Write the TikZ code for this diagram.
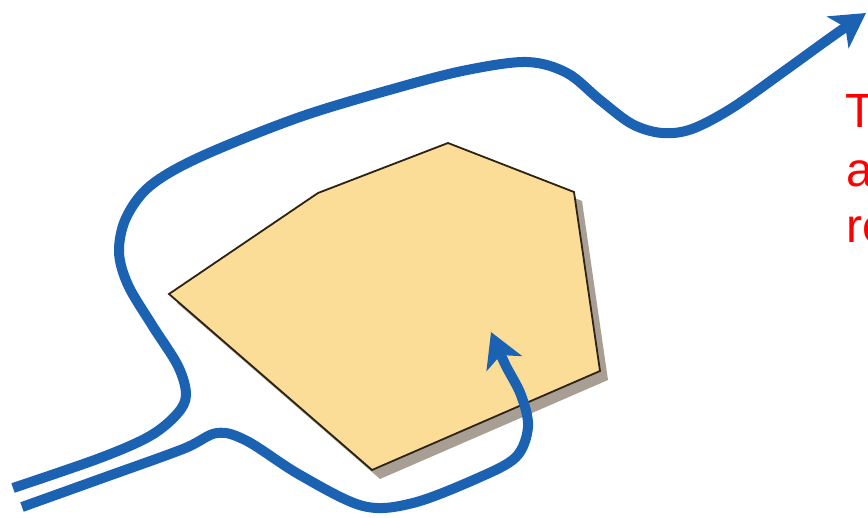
\documentclass[tikz,border=0pt]{standalone}
\usepackage{fontspec}
\setmainfont{Liberation Sans}
\usetikzlibrary{arrows.meta}
\definecolor{flowblue}{RGB}{28,98,178}
\definecolor{polyfill}{RGB}{251,221,151}
\definecolor{polyedge}{RGB}{45,35,20}
\definecolor{shadowgray}{RGB}{168,158,148}
\definecolor{txtred}{RGB}{255,0,0}
\tikzset{
  flow/.style={draw=flowblue, line width=10pt, line cap=butt,
    -{Stealth[length=34pt,width=38pt,inset=9pt]}},
  poly/.style={fill=polyfill, draw=polyedge, line width=1.8pt, line join=miter},
  polyshadow/.style={fill=shadowgray},
  redtext/.style={text=txtred, font=\fontsize{48}{58}\selectfont, inner sep=0pt, anchor=base west}
}
\begin{document}
\begin{tikzpicture}[x=1pt,y=-1pt]
\clip (0,0) rectangle (868,518);
\fill[white] (0,0) rectangle (868,518);
% polygon shadow
\path[polyshadow, xshift=8pt, yshift=-9pt]
  (169,294) -- (318,193) -- (448,143) -- (574,192) -- (600,371) -- (372,470) -- cycle;
% polygon
\path[poly]
  (169,294) -- (318,193) -- (448,143) -- (574,192) -- (600,371) -- (372,470) -- cycle;
% outer flow line
\draw[flow] plot[smooth, tension=0.55] coordinates {
  (13,488) (100,458) (150,436) (177,414) (186,395) (178,366) (152,325)
  (128,285) (119,252) (126,218) (150,186) (200,157) (300,117) (400,87)
  (467,70) (527,62) (567,73) (600,100) (632,124) (662,133) (692,129)
  (732,108) (783,72) (830,38) (866,13)};
% inner flow line
\draw[flow] plot[smooth, tension=0.55] coordinates {
  (22,507) (100,479) (183,449) (217,433) (247,441) (300,475) (363,506)
  (413,503) (478,478) (516,457) (528,427) (521,395) (505,364) (491,332)};
% text
\node[redtext] (t1) at (845,128) {T};
\node[redtext] (t2) at (846,187) {a};
\node[redtext] (t3) at (846,243) {re};
\end{tikzpicture}
\end{document}
